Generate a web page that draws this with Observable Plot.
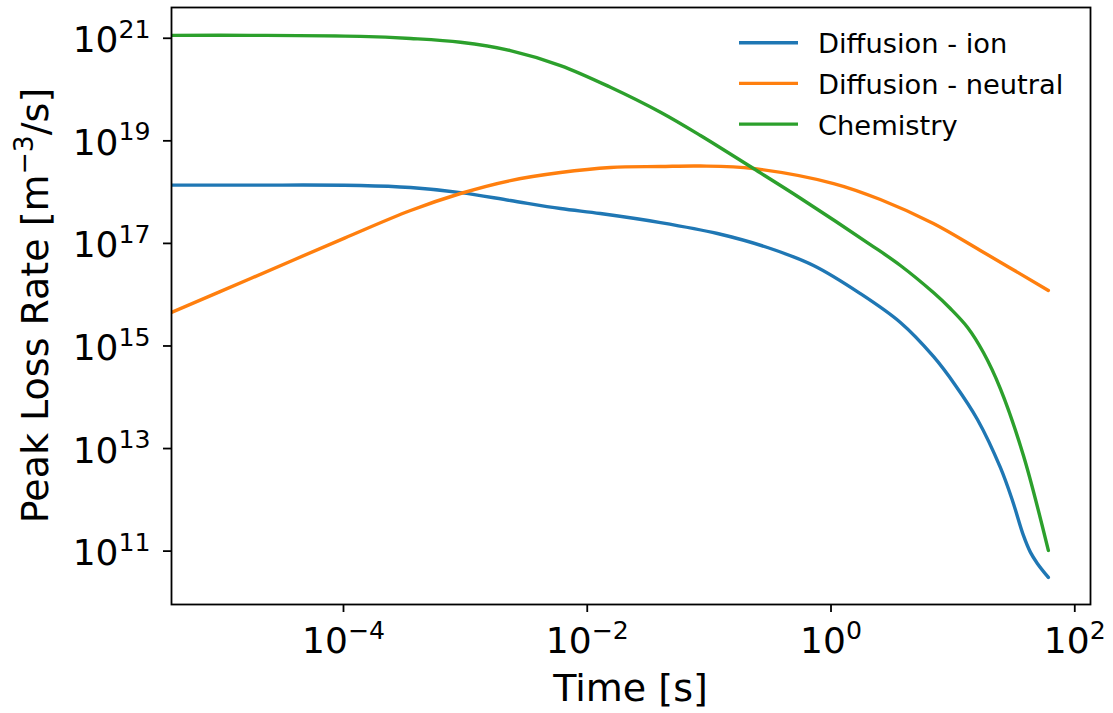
<!DOCTYPE html>
<html><head><meta charset="utf-8">
<script src="https://cdn.jsdelivr.net/npm/d3@7"></script>
<script src="https://cdn.jsdelivr.net/npm/@observablehq/plot@0.6"></script>
<style>
body{margin:0;background:#fff;}
svg{display:block;font-family:"DejaVu Sans",sans-serif;}
</style>
</head><body><div id="chart"></div>
<script>
const seriesNames = ["Diffusion - ion", "Diffusion - neutral", "Chemistry"];
const seriesColors = ["#1f77b4", "#ff7f0e", "#2ca02c"];

const ionTime = [3.88e-6, 1.73e-5, 1.38e-4, 3.55e-4, 9.12e-4, 2.34e-3, 6.03e-3, 1.28e-2, 3.99e-2, 0.117, 0.301, 0.718, 1.74, 3.71, 6.92, 10.5, 15.9, 24.5, 30.8, 37.9, 43.3, 49.3, 60.7];
const ionRate = [1.37e18, 1.37e18, 1.35e18, 1.23e18, 9.8e17, 6.86e17, 4.79e17, 3.83e17, 2.55e17, 1.56e17, 8.32e16, 3.71e16, 1.05e16, 2.87e15, 6.24e14, 1.70e14, 3.69e13, 4.28e12, 9.73e11, 2.02e11, 9.44e10, 5.76e10, 3.07e10];

const neutralTime = [3.88e-6, 1.73e-5, 1.02e-4, 3.55e-4, 9.12e-4, 2.34e-3, 6.03e-3, 1.55e-2, 3.99e-2, 8.49e-2, 0.231, 1.05, 2.54, 6.92, 16.8, 60.7];
const neutralRate = [4.5e15, 2.07e16, 1.27e17, 4.38e17, 9.4e17, 1.68e18, 2.41e18, 3.02e18, 3.16e18, 3.23e18, 2.88e18, 1.47e18, 7.17e17, 2.44e17, 7.28e16, 1.21e16];

const chemTime = [3.88e-6, 1.73e-5, 1.38e-4, 3.55e-4, 9.12e-4, 2.34e-3, 6.03e-3, 1.55e-2, 3.99e-2, 8.49e-2, 0.231, 0.561, 2.10, 3.71, 6.92, 9.53, 13.2, 17.8, 24.5, 37.9, 60.7];
const chemRate = [1.14e21, 1.14e21, 1.09e21, 9.9e20, 8.36e20, 5.76e20, 2.94e20, 1.11e20, 3.61e19, 1.27e19, 2.88e18, 7.6e17, 9.5e16, 3.71e16, 1.10e16, 5.38e15, 2.30e15, 7.47e14, 1.48e14, 7.33e12, 1.03e11];

const xTicks = [1e-4, 1e-2, 1, 1e2];
const yTicks = [1e11, 1e13, 1e15, 1e17, 1e19, 1e21];
const xDomain = [3.88e-6, 134.6];
const yDomain = [9.1e9, 3.98e21];
const xLabel = "Time [s]";
const yLabelParts = ["Peak Loss Rate [m", "\u22123", "/s]"];

const rows = [];
function addSeries(name, ts, rs) { ts.forEach((t, i) => rows.push({series: name, t, r: rs[i]})); }
addSeries(seriesNames[0], ionTime, ionRate);
addSeries(seriesNames[1], neutralTime, neutralRate);
addSeries(seriesNames[2], chemTime, chemRate);

const fmt = d => { const e = Math.round(Math.log10(d)); return "10^" + (e < 0 ? "\u2212" + (-e) : String(e)); };

const W = 1113, H = 713, mL = 171, mR = 23, mT = 7, mB = 109;
const TICK_FS = 36, SUP_FS = 25.2, LABEL_FS = 38, LEGEND_FS = 27.3;
const plot = Plot.plot({
  width: W, height: H, marginLeft: mL, marginRight: mR, marginTop: mT, marginBottom: mB,
  style: {fontFamily: "DejaVu Sans", background: "#fff", color: "#000"},
  x: {type: "log", domain: xDomain},
  y: {type: "log", domain: yDomain},
  color: {domain: seriesNames, range: seriesColors},
  marks: [
    Plot.line(rows, {x: "t", y: "r", stroke: "series", z: "series", strokeWidth: 3.4, curve: "catmull-rom", clip: true}),
    Plot.axisX({ticks: xTicks, tickSize: 8, tickPadding: 8, tickFormat: fmt, fontSize: TICK_FS, label: null, strokeWidth: 1.8}),
    Plot.axisY({ticks: yTicks, tickSize: 8, tickPadding: 13, tickFormat: fmt, fontSize: TICK_FS, label: null, strokeWidth: 1.8}),
    Plot.frame({stroke: "#000", strokeWidth: 1.8})
  ]
});
document.getElementById("chart").appendChild(plot);

const svg = d3.select(plot);
// superscript tick labels
svg.selectAll("text").each(function() {
  const s = this.textContent;
  if (!/^10\^/.test(s)) return;
  const isX = this.closest('g[aria-label^="x-axis"]') != null;
  const exp = s.slice(3);
  const t = d3.select(this).attr("font-size", TICK_FS);
  t.text(null);
  t.append("tspan").attr("dy", isX ? 7 : 2.5).text("10");
  t.append("tspan").attr("dy", -14.4).attr("font-size", SUP_FS).text(exp);
});

// axis labels
svg.append("text").attr("x", mL + (W - mL - mR) / 2).attr("y", 701)
  .attr("text-anchor", "middle").attr("font-size", LABEL_FS).attr("fill", "#000").text(xLabel);
const yl = svg.append("text").attr("transform", `translate(48,${mT + (H - mT - mB) / 2}) rotate(-90)`)
  .attr("text-anchor", "middle").attr("font-size", LABEL_FS).attr("fill", "#000");
yl.append("tspan").text(yLabelParts[0]);
yl.append("tspan").attr("dy", -15.5).attr("font-size", LABEL_FS * 0.7).text(yLabelParts[1]);
yl.append("tspan").attr("dy", 15.5).text(yLabelParts[2]);

// legend
const lg = svg.append("g").attr("font-size", LEGEND_FS).attr("fill", "#000").attr("text-anchor", "start");
seriesNames.forEach((name, i) => {
  const cy = 42.7 + i * 40.7;
  lg.append("line").attr("x1", 739).attr("x2", 798).attr("y1", cy).attr("y2", cy)
    .attr("stroke", seriesColors[i]).attr("stroke-width", 3.4);
  lg.append("text").attr("x", 818).attr("y", cy + 10.6).attr("text-anchor", "start").text(name);
});
</script>
</body></html>
